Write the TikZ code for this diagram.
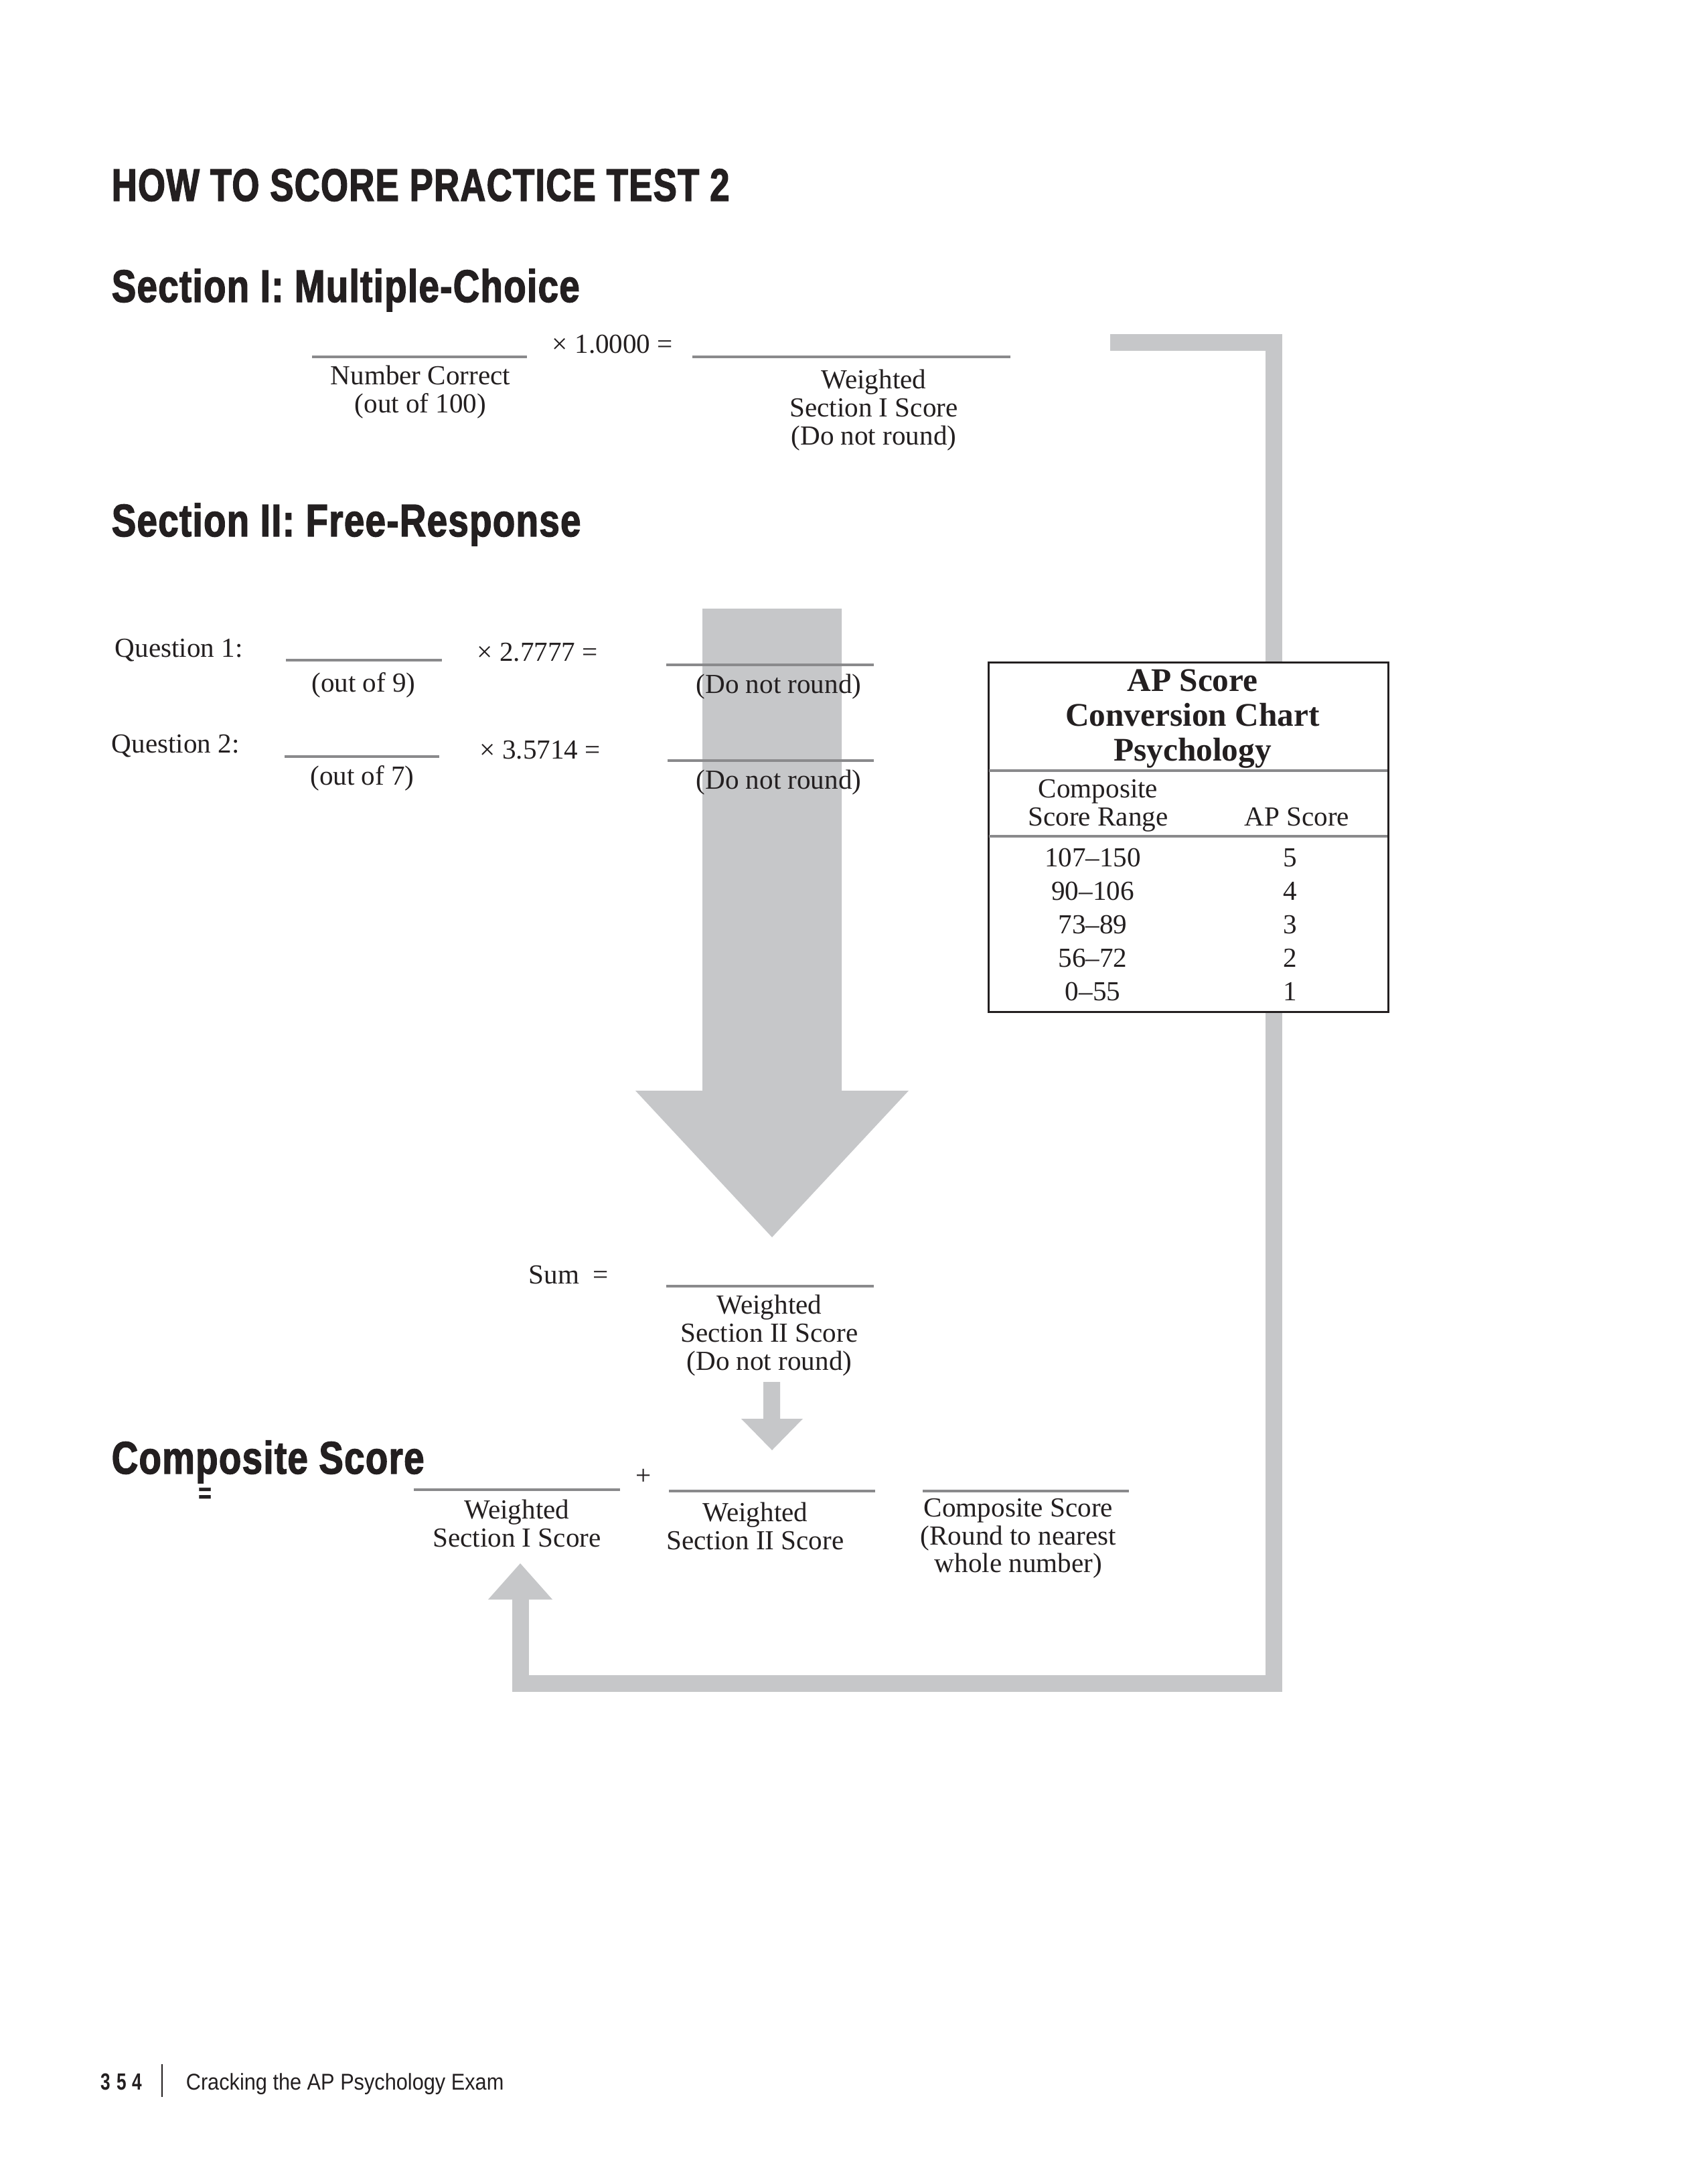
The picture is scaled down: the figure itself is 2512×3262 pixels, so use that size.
\documentclass[tikz,border=0pt]{standalone}
\usepackage{fontspec}
\setmainfont{Liberation Serif}
\newfontfamily\titlefont[FakeStretch=0.77,FakeBold=2,LetterSpace=2]{Liberation Sans}
\newfontfamily\headfont[FakeStretch=0.80,FakeBold=2,LetterSpace=2]{Liberation Sans}
\newfontfamily\footfont[FakeStretch=0.9]{Liberation Sans}
\newfontfamily\pagefont[FakeStretch=0.75,LetterSpace=25]{Liberation Sans}
\definecolor{ink}{HTML}{231F20}
\definecolor{barfill}{HTML}{C6C7C9}
\definecolor{rulegray}{HTML}{8A8A8C}

\begin{document}
\begin{tikzpicture}[x=0.2432pt,y=-0.2432pt,
  head/.style={anchor=base west,inner sep=0pt,text=ink,font=\headfont\bfseries\fontsize{16.6}{20}\selectfont},
  lbl/.style={inner sep=0pt,text=ink,align=center,font=\fontsize{10}{10.2}\selectfont},
  blank/.style={draw=rulegray,line width=0.97pt},
  bar/.style={draw=barfill,line width=6.08pt},
  chartrule/.style={draw=rulegray,line width=0.9pt}]
\useasboundingbox[fill=white] (0,0) rectangle (2512,3262);

% headings
\node[head,font=\titlefont\bfseries\fontsize{16.6}{20}\selectfont] (title) at (166,300) {HOW TO SCORE PRACTICE TEST 2};
\node[head] (secI) at (166,451) {Section I: Multiple-Choice};
\node[head] (secII) at (166,801) {Section II: Free-Response};
\node[head] (comp) at (166,2201) {Composite Score};

% big arrow down to the sum
\fill[barfill] (1049,909) -- (1257,909) -- (1257,1629) -- (1357,1629) -- (1153,1848)
  -- (949,1629) -- (1049,1629) -- cycle;

% section I
\draw[blank] (466,533) coordinate (nc) -- (787,533);
\node[lbl,anchor=base] (xI) at (915,527) {× 1.0000 =};
\draw[blank] (1034,533) -- (1509,533) coordinate (wIend);
\node[lbl,anchor=north] (ncl) at (628,545) {Number Correct\\(out of 100)};
\node[lbl,anchor=north] (wIl) at (1305,551) {Weighted\\Section I Score\\(Do not round)};

% section II
\node[lbl,anchor=base west] (q1) at (171,981) {Question 1:};
\draw[blank] (427,986) -- (660,986);
\node[lbl,anchor=base] (q1o) at (543,1033) {(out of 9)};
\node[lbl,anchor=base west] (q1x) at (712,987) {× 2.7777 =};
\draw[blank] (995,993) -- (1305,993);
\node[lbl,anchor=base] (q1d) at (1163,1035) {(Do not round)};

\node[lbl,anchor=base west] (q2) at (166,1124) {Question 2:};
\draw[blank] (425,1130) -- (656,1130);
\node[lbl,anchor=base] (q2o) at (541,1172) {(out of 7)};
\node[lbl,anchor=base west] (q2x) at (716,1133) {× 3.5714 =};
\draw[blank] (997,1136) -- (1305,1136);
\node[lbl,anchor=base] (q2d) at (1163,1178) {(Do not round)};

% sum
\node[lbl,anchor=base west] (sum) at (789,1917) {Sum\ \ =};
\draw[blank] (995,1921) -- (1305,1921);
\node[lbl,anchor=north] (wIIl) at (1149,1933) {Weighted\\Section II Score\\(Do not round)};

% small arrow
\fill[barfill] (1140,2064) -- (1165,2064) -- (1165,2119) -- (1199,2119) -- (1153,2166)
  -- (1107,2119) -- (1140,2119) -- cycle;

% composite
\node[lbl,font=\headfont\bfseries\fontsize{10}{10}\selectfont] (eq) at (306,2233) {=};
\draw[blank] (618,2225) -- (926,2225);
\node[lbl] (plus) at (961,2206) {+};
\draw[blank] (999,2227) -- (1307,2227);
\draw[blank] (1378,2227) -- (1686,2227);
\node[lbl,anchor=north] (cIl) at (772,2239) {Weighted\\Section I Score};
\node[lbl,anchor=north] (cIIl) at (1128,2243) {Weighted\\Section II Score};
\node[lbl,anchor=north] (cCl) at (1521,2237) {Composite Score\\(Round to nearest\\whole number)};

% bracket from section I score back to composite
\draw[bar] (1658,511.5) -| (1902.5,2514) -| (777,2389);
\fill[barfill] (729,2389) -- (825,2389) -- (777,2335) -- cycle;

% conversion chart
\draw[draw=ink,fill=white,line width=0.73pt] (1476,989) rectangle (2073,1511);
\node[lbl,anchor=north,font=\bfseries\fontsize{12}{12.6}\selectfont] (chartT) at (1781,999)
  {AP Score\\Conversion Chart\\Psychology};
\draw[chartrule] (1477,1151) -- (2072,1151);
\node[lbl,anchor=north] (colA) at (1640,1163) {Composite\\Score Range};
\node[lbl,anchor=base] (colB) at (1937,1233) {AP Score};
\draw[chartrule] (1477,1249) -- (2072,1249);
\foreach \r/\s [count=\i] in {107–150/5,90–106/4,73–89/3,56–72/2,0–55/1}{
  \node[lbl,anchor=base] (r\i) at (1632,1244+50*\i) {\r};
  \node[lbl,anchor=base] (s\i) at (1927,1244+50*\i) {\s};
}

% footer
\node[anchor=base west,inner sep=0pt,text=ink,font=\pagefont\bfseries\fontsize{8.5}{10}\selectfont] (pg) at (150,3121) {354};
\draw[ink,line width=0.5pt] (242,3083) -- (242,3132);
\node[anchor=base west,inner sep=0pt,text=ink,font=\footfont\fontsize{8.3}{10}\selectfont] (book) at (277,3121)
  {Cracking the AP Psychology Exam};
\end{tikzpicture}
\end{document}
